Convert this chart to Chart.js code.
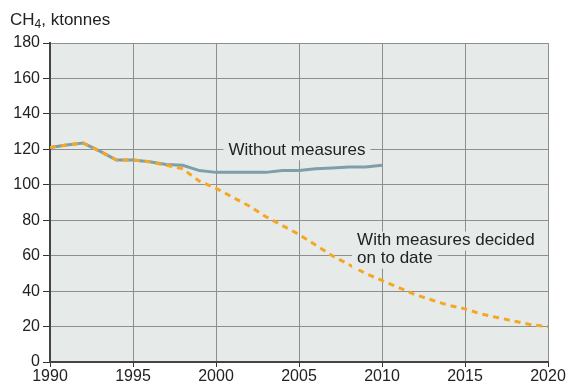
<!DOCTYPE html>
<html>
<head>
<meta charset="utf-8">
<script src="https://cdn.jsdelivr.net/npm/chart.js@4"></script>
<style>
  html, body { margin: 0; padding: 0; background: #fff; }
  #wrap { width: 568px; height: 384px; }
</style>
</head>
<body>
<div id="wrap"><canvas id="chart" width="568" height="384"></canvas></div>
<script>
// CH4 emissions, ktonnes
const yearsWithout = [1990, 1991, 1992, 1993, 1994, 1995, 1996, 1997, 1998, 1999, 2000,
    2001, 2002, 2003, 2004, 2005, 2006, 2007, 2008, 2009, 2010];
const withoutMeasures = [121, 122.5, 123.5, 119, 114, 114, 113, 111.5, 111, 108, 107,
    107, 107, 107, 108, 108, 109, 109.5, 110, 110, 111];

const yearsWith = [1990, 1991, 1992, 1993, 1994, 1995, 1996, 1997, 1998, 1999, 2000,
    2001, 2002, 2003, 2004, 2005, 2006, 2007, 2008, 2009, 2010,
    2011, 2012, 2013, 2014, 2015, 2016, 2017, 2018, 2019, 2020];
const withMeasures = [121, 122.5, 123.5, 119, 114, 114, 113, 111, 109, 102, 98,
    93, 88, 82, 77, 72, 66, 60, 55, 50, 46,
    42, 38, 35, 32, 30, 27, 25, 23, 21, 20];

const xTicks = [1990, 1995, 2000, 2005, 2010, 2015, 2020];
const yTicks = [0, 20, 40, 60, 80, 100, 120, 140, 160, 180];

const FONT = "'Liberation Sans', Arial, sans-serif";

// plot background + texts
const decor = {
    id: "decor",
    beforeDraw(chart) {
        const { ctx, chartArea: a } = chart;
        ctx.save();
        ctx.fillStyle = "#e6ebea";
        ctx.fillRect(a.left, a.top, a.right - a.left, a.bottom - a.top);
        ctx.restore();
    },
    afterDatasetsDraw(chart) {
        const { ctx, scales } = chart;
        const x = scales.x, y = scales.y;
        ctx.save();
        ctx.font = "17px " + FONT;
        ctx.textBaseline = "middle";
        const label = (lines, xv, yv, lh) => {
            const px = x.getPixelForValue(xv);
            const py = y.getPixelForValue(yv);
            lines.forEach((t, i) => {
                const w = ctx.measureText(t).width;
                ctx.fillStyle = "#e6ebea";
                ctx.fillRect(px - 5, py + i * lh - 9, w + 10, 19);
            });
            lines.forEach((t, i) => {
                ctx.fillStyle = "#222";
                ctx.fillText(t, px, py + i * lh);
            });
        };
        label(["Without measures"], 2000.75, 119.5, 18);
        label(["With measures decided", "on to date"], 2008.5, 68.5, 18);

        // axis title with subscript
        ctx.fillStyle = "#222";
        ctx.textBaseline = "alphabetic";
        ctx.font = "17px " + FONT;
        ctx.fillText("CH", 10, 25);
        let w = ctx.measureText("CH").width;
        ctx.font = "12px " + FONT;
        ctx.fillText("4", 10 + w, 28);
        w += ctx.measureText("4").width;
        ctx.font = "17px " + FONT;
        ctx.fillText(", ktonnes", 10 + w, 25);
        ctx.restore();
    }
};

new Chart(document.getElementById("chart"), {
    type: "line",
    data: {
        datasets: [
            {
                label: "With measures decided on to date",
                data: yearsWith.map((yr, i) => ({ x: yr, y: withMeasures[i] })),
                borderColor: "#f5a623",
                borderWidth: 3,
                borderDash: [6, 5],
                pointRadius: 0,
                tension: 0,
                fill: false,
                order: 0,
            },
            {
                label: "Without measures",
                data: yearsWithout.map((yr, i) => ({ x: yr, y: withoutMeasures[i] })),
                borderColor: "#7f9fa8",
                borderWidth: 3,
                pointRadius: 0,
                tension: 0,
                fill: false,
                order: 1,
            },
        ],
    },
    options: {
        responsive: false,
        animation: false,
        layout: { padding: { top: 43, right: 20, left: 0, bottom: 0 } },
        plugins: {
            legend: { display: false },
            tooltip: { enabled: false },
        },
        scales: {
            x: {
                type: "linear",
                min: 1990,
                max: 2020,
                afterBuildTicks: (s) => { s.ticks = xTicks.map((v) => ({ value: v })); },
                ticks: {
                    color: "#222",
                    font: { family: FONT, size: 16 },
                    padding: 0,
                    maxRotation: 0,
                    callback: (v) => String(v),
                },
                grid: { color: "#8e8e8e", lineWidth: 1, tickLength: 5, tickColor: "#333" },
                border: { color: "#444", width: 2 },
                afterFit: (s) => { s.height = 22; },
            },
            y: {
                min: 0,
                max: 180,
                afterBuildTicks: (s) => { s.ticks = yTicks.map((v) => ({ value: v })); },
                ticks: {
                    color: "#222",
                    font: { family: FONT, size: 16 },
                    padding: 3,
                },
                grid: { color: "#8e8e8e", lineWidth: 1, tickLength: 7, tickColor: "#333" },
                border: { color: "#444", width: 2 },
                afterFit: (s) => { s.width = 50; },
            },
        },
    },
    plugins: [decor],
});
</script>
</body>
</html>
